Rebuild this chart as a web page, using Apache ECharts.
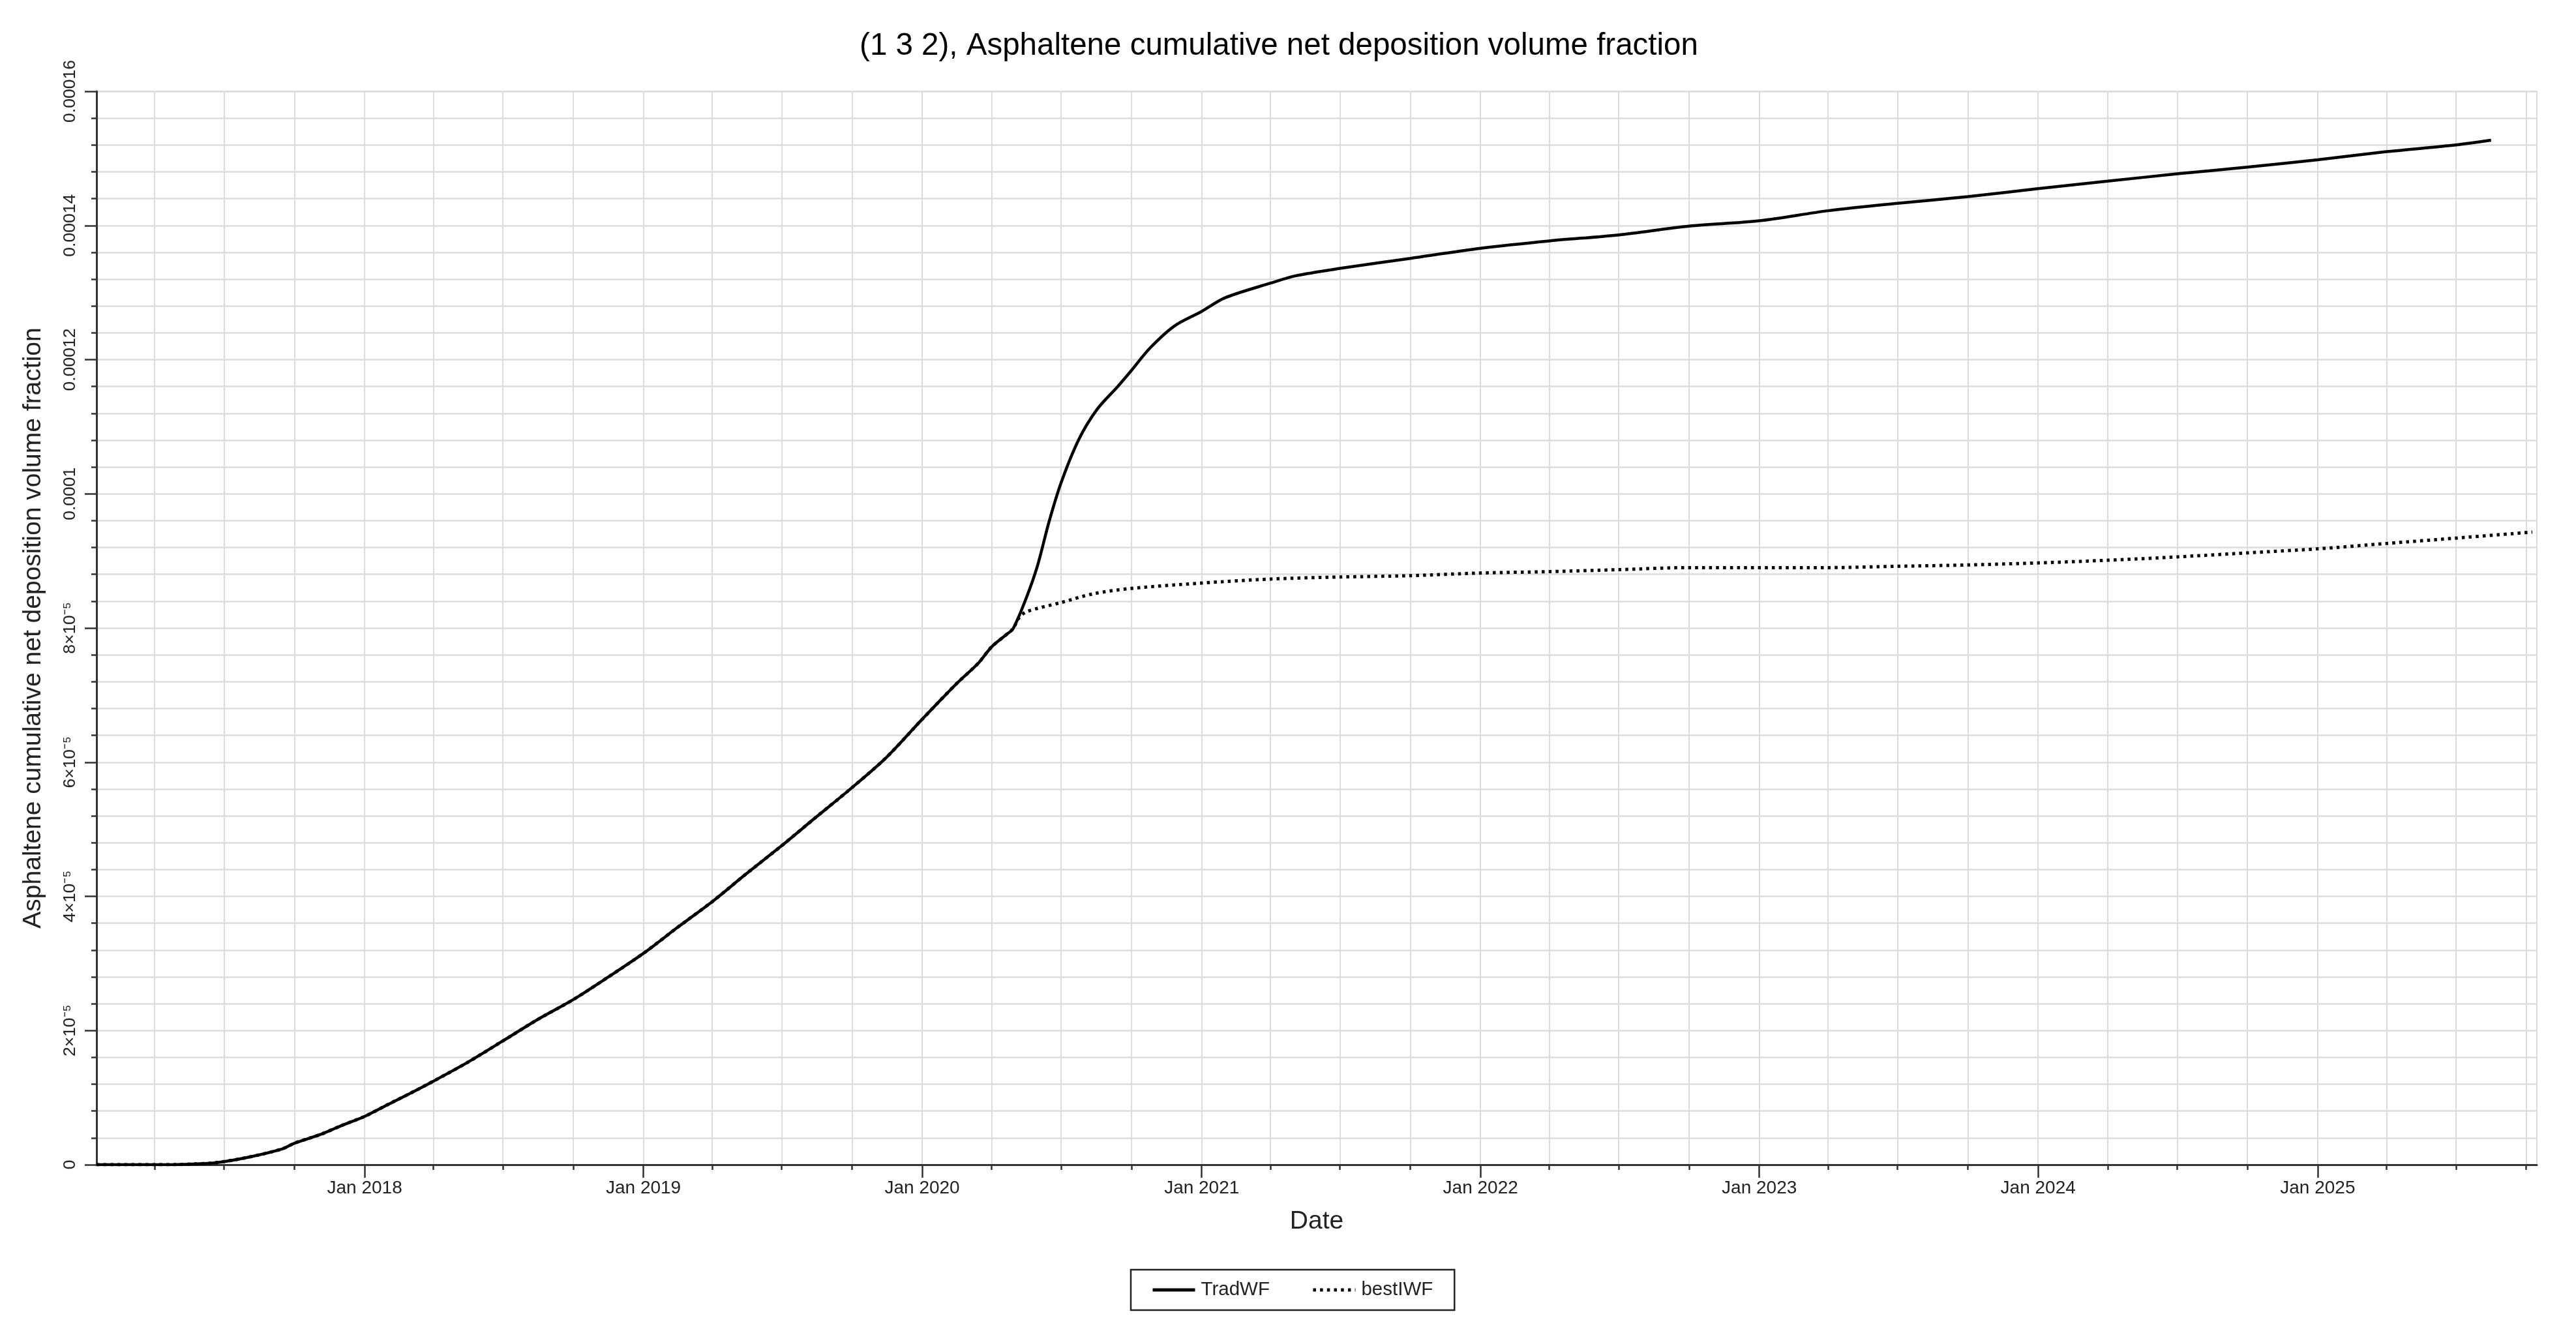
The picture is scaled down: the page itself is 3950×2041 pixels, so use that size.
<!DOCTYPE html>
<html>
<head>
<meta charset="utf-8">
<script src="https://cdn.jsdelivr.net/npm/echarts@6.0.0/dist/echarts.min.js"></script>
<style>
  html, body { margin: 0; padding: 0; background: #ffffff; }
  #chart { width: 3950px; height: 2041px; }
</style>
</head>
<body>
<div id="chart"></div>
<script>
// ---------------- data ----------------
const titleText = '(1 3 2), Asphaltene cumulative net deposition volume fraction';
const yAxisName = 'Asphaltene cumulative net deposition volume fraction';
const xAxisName = 'Date';
const seriesNames = ['TradWF', 'bestIWF'];

// Part common to both cases (curves coincide until the kink)
const sharedDates = ['2017-01-15','2017-04-20','2017-05-20','2017-06-20','2017-08-01','2017-09-15','2017-10-01',
  '2017-11-04','2017-12-01','2018-01-01','2018-02-01','2018-03-01','2018-04-01','2018-05-15','2018-07-01',
  '2018-08-15','2018-10-01','2018-11-15','2019-01-01','2019-02-15','2019-04-01','2019-05-15','2019-07-01',
  '2019-08-15','2019-10-01','2019-11-15','2020-01-01','2020-02-15','2020-03-14','2020-04-01','2020-04-20',
  '2020-04-29'];
const sharedValues = [0, 0, 0.01e-5, 0.03e-5, 0.11e-5, 0.235e-5, 0.32e-5,
  0.45e-5, 0.58e-5, 0.72e-5, 0.90e-5, 1.06e-5, 1.245e-5, 1.52e-5, 1.845e-5,
  2.16e-5, 2.46e-5, 2.79e-5, 3.15e-5, 3.54e-5, 3.92e-5, 4.33e-5, 4.755e-5,
  5.18e-5, 5.62e-5, 6.07e-5, 6.64e-5, 7.17e-5, 7.47e-5, 7.72e-5, 7.90e-5,
  7.99e-5];

// TradWF after the kink
const tradDates = ['2020-05-16','2020-05-31','2020-06-15','2020-07-01','2020-07-24','2020-08-17','2020-09-13',
  '2020-10-01','2020-10-25','2020-11-26','2021-01-01','2021-01-31','2021-04-01','2021-05-04','2021-07-01',
  '2021-10-01','2022-01-01','2022-04-01','2022-07-01','2022-10-01','2023-01-01','2023-04-01','2023-07-01',
  '2023-10-01','2024-01-01','2024-04-01','2024-07-01','2024-10-01','2025-01-01','2025-04-01','2025-07-01',
  '2025-08-16'];
const tradValues = [8.44e-5, 8.93e-5, 9.58e-5, 10.17e-5, 10.81e-5, 11.26e-5, 11.60e-5,
  11.84e-5, 12.17e-5, 12.50e-5, 12.72e-5, 12.92e-5, 13.14e-5, 13.25e-5, 13.36e-5,
  13.51e-5, 13.66e-5, 13.77e-5, 13.86e-5, 13.99e-5, 14.07e-5, 14.22e-5, 14.33e-5,
  14.43e-5, 14.55e-5, 14.66e-5, 14.77e-5, 14.87e-5, 14.98e-5, 15.10e-5, 15.20e-5,
  15.27e-5];

// bestIWF after the kink
const bestDates = ['2020-05-06','2020-05-16','2020-07-01','2020-08-12','2020-10-01','2021-01-01','2021-04-01',
  '2021-07-01','2021-10-01','2022-01-01','2022-04-01','2022-07-01','2022-10-01','2023-01-01','2023-04-01',
  '2023-07-01','2023-10-01','2024-01-01','2024-04-01','2024-07-01','2024-10-01','2025-01-01','2025-04-01',
  '2025-07-01','2025-10-09'];
const bestValues = [8.14e-5, 8.24e-5, 8.38e-5, 8.51e-5, 8.59e-5, 8.67e-5, 8.73e-5,
  8.76e-5, 8.78e-5, 8.82e-5, 8.84e-5, 8.87e-5, 8.90e-5, 8.90e-5, 8.90e-5,
  8.92e-5, 8.94e-5, 8.97e-5, 9.01e-5, 9.06e-5, 9.12e-5, 9.18e-5, 9.26e-5,
  9.34e-5, 9.43e-5];

// axes
const xMinDate = '2017-01-15';
const xMaxDate = '2025-10-15';
const tickYears = [2017, 2018, 2019, 2020, 2021, 2022, 2023, 2024, 2025];
const tickMonths = ['01', '04', '07', '10'];
const janTickDates = ['2018-01-01','2019-01-01','2020-01-01','2021-01-01','2022-01-01','2023-01-01','2024-01-01','2025-01-01'];
const janTickLabels = ['Jan 2018','Jan 2019','Jan 2020','Jan 2021','Jan 2022','Jan 2023','Jan 2024','Jan 2025'];
const yTickLabels = ['0', '2×10⁻⁵', '4×10⁻⁵', '6×10⁻⁵', '8×10⁻⁵', '0.0001', '0.00012', '0.00014', '0.00016'];
const yMin = 0, yMax = 0.00016, yStep = 0.00002;

// ---------------- build ----------------
const ts = s => Date.parse(s + 'T00:00:00Z');
const xMin = ts(xMinDate), xMax = ts(xMaxDate);
const quarterTicks = [];
tickYears.forEach(y => tickMonths.forEach(m => {
  const t = ts(y + '-' + m + '-01');
  if (t > xMin && t < xMax) quarterTicks.push(t);
}));
const janTicks = janTickDates.map(ts);

const pairs = (d, v) => d.map((s, i) => [ts(s), v[i]]);
const tradData = pairs(sharedDates, sharedValues).concat(pairs(tradDates, tradValues));
const bestData = pairs(sharedDates, sharedValues).concat(pairs(bestDates, bestValues));

const FONT = "'Liberation Sans', Arial, Helvetica, sans-serif";
const chart = echarts.init(document.getElementById('chart'), null, { renderer: 'canvas' });

chart.setOption({
  animation: false,
  backgroundColor: '#ffffff',
  textStyle: { fontFamily: FONT },
  title: {
    text: titleText,
    left: 1961,
    textAlign: 'center',
    top: 47,
    padding: 0,
    textStyle: { fontFamily: FONT, fontSize: 47.5, fontWeight: 'normal', color: '#000' }
  },
  legend: {
    data: seriesNames,
    left: 1734,
    top: 1947,
    orient: 'horizontal',
    padding: [16, 33, 16, 31],
    itemGap: 64,
    itemWidth: 65,
    itemHeight: 29,
    borderColor: '#222',
    borderWidth: 2.5,
    backgroundColor: '#fff',
    itemStyle: { opacity: 0 },
    lineStyle: { width: 5 },
    textStyle: { fontFamily: FONT, fontSize: 29.5, color: '#222', padding: [0, 0, 0, 4] }
  },
  grid: {
    left: 148, right: 60, top: 140, bottom: 255,
    show: true, borderColor: '#dcdcdc', borderWidth: 2,
    containLabel: false, outerBoundsMode: 'none'
  },
  xAxis: [{
    type: 'value',
    min: xMin, max: xMax,
    name: xAxisName,
    nameLocation: 'middle',
    nameGap: 68,
    nameTextStyle: { fontFamily: FONT, fontSize: 39, color: '#222' },
    axisLine: { show: true, onZero: false, lineStyle: { color: '#333', width: 3 } },
    axisTick: { show: true, length: 8, customValues: quarterTicks, lineStyle: { color: '#333', width: 2.5 } },
    axisLabel: {
      show: true, customValues: janTicks, margin: 22,
      fontFamily: FONT, fontSize: 28, color: '#222',
      formatter: v => { const i = janTicks.indexOf(v); return i >= 0 ? janTickLabels[i] : ''; }
    },
    splitLine: { show: true, lineStyle: { color: '#dcdcdc', width: 2 } }
  }, {
    type: 'value',
    min: xMin, max: xMax,
    position: 'bottom',
    axisLine: { show: false },
    axisTick: { show: true, length: 20, customValues: janTicks, lineStyle: { color: '#333', width: 2.5 } },
    axisLabel: { show: false },
    splitLine: { show: false }
  }],
  yAxis: {
    type: 'value',
    min: yMin, max: yMax, interval: yStep,
    name: yAxisName,
    nameLocation: 'middle',
    nameGap: 77,
    nameRotate: 90,
    nameTextStyle: { fontFamily: FONT, fontSize: 39, color: '#222' },
    axisLine: { show: true, lineStyle: { color: '#333', width: 3 } },
    axisTick: { show: true, length: 18, lineStyle: { color: '#333', width: 2.5 } },
    minorTick: { show: true, splitNumber: 5, length: 8, lineStyle: { color: '#333', width: 2.5 } },
    axisLabel: {
      rotate: 90, margin: 27,
      fontFamily: FONT, fontSize: 26.5, color: '#222',
      formatter: v => yTickLabels[Math.round(v / yStep)]
    },
    splitLine: { show: true, lineStyle: { color: '#dcdcdc', width: 2.5 } },
    minorSplitLine: { show: true, lineStyle: { color: '#dcdcdc', width: 2.5 } }
  },
  series: [{
    name: seriesNames[0],
    type: 'line',
    xAxisIndex: 0,
    data: tradData,
    showSymbol: false,
    symbol: 'none',
    smooth: 0.3,
    lineStyle: { color: '#000', width: 4.5, type: 'solid' },
    itemStyle: { color: '#000' },
    z: 3
  }, {
    name: seriesNames[1],
    type: 'line',
    xAxisIndex: 0,
    data: bestData,
    showSymbol: false,
    symbol: 'none',
    smooth: 0.3,
    lineStyle: { color: '#000', width: 5, type: [4.5, 6.2] },
    itemStyle: { color: '#000' },
    z: 4
  }]
});
</script>
</body>
</html>
